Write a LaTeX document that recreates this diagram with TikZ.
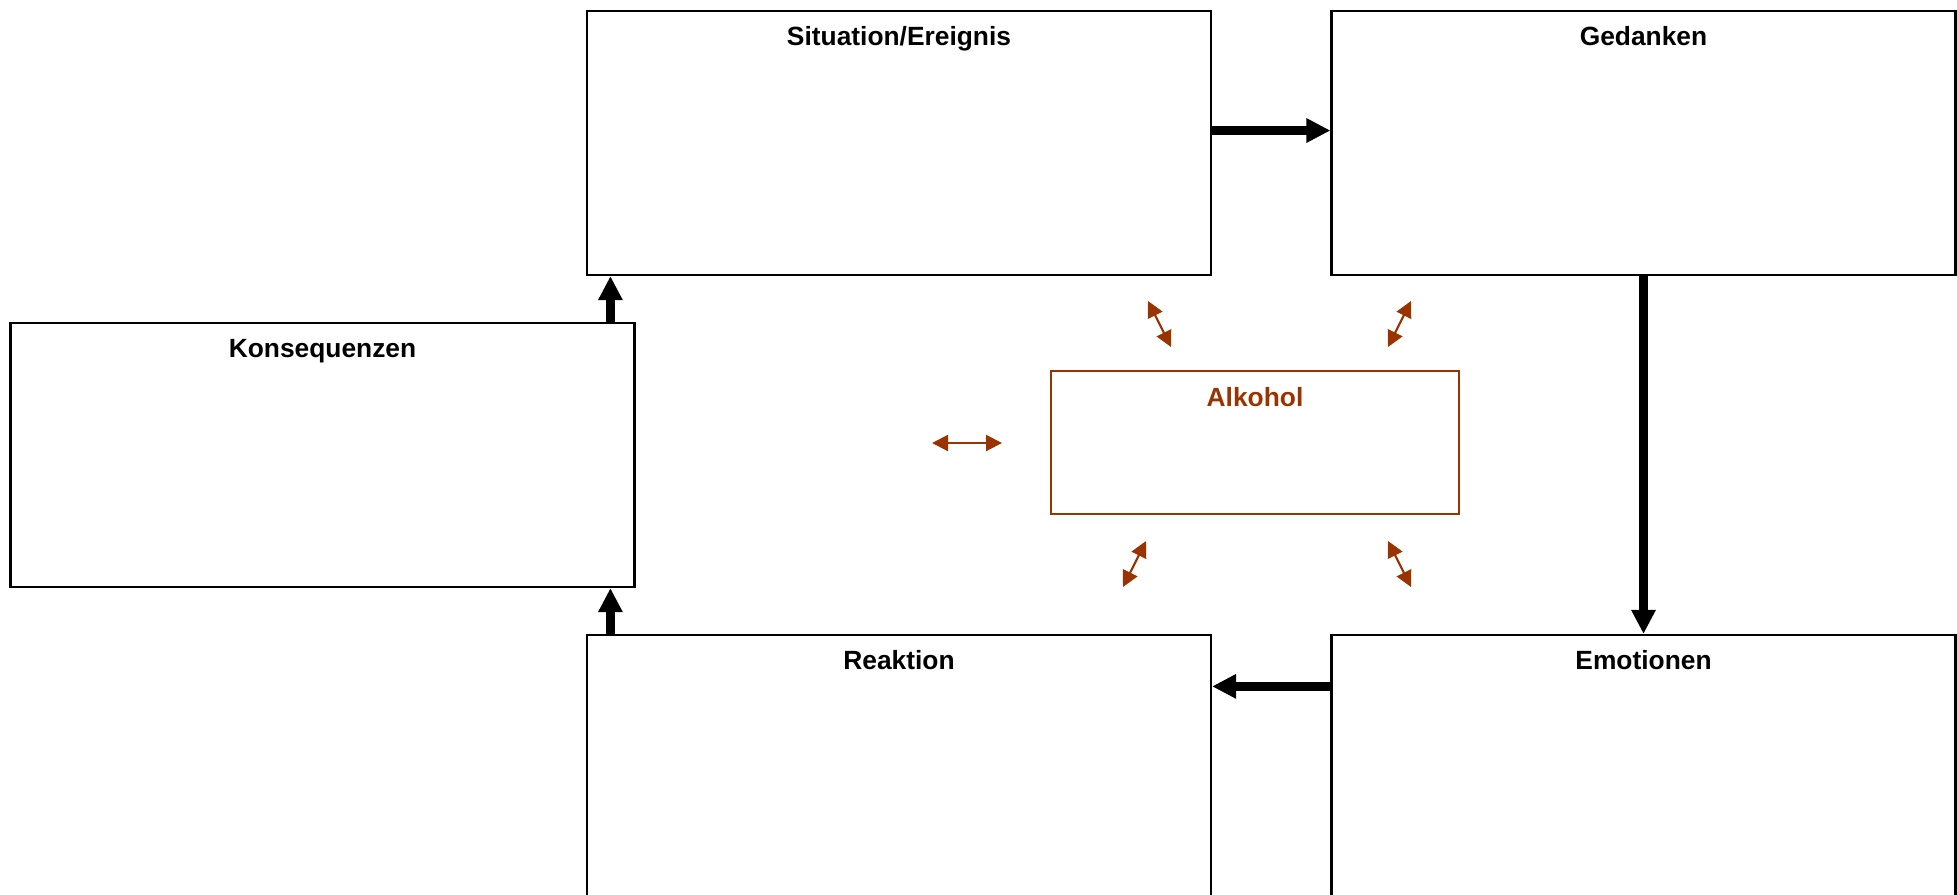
\documentclass[tikz,border=0pt]{standalone}
\usepackage{fontspec}
\setmainfont{Liberation Sans}
\usetikzlibrary{arrows.meta,positioning}
\definecolor{alkbrown}{RGB}{153,51,0}
\tikzset{
  box/.style={draw, line width=1.3pt, minimum width=12.48cm, minimum height=5.28cm, inner sep=0pt},
  title/.style={anchor=base, font=\bfseries\fontsize{15}{18}\selectfont},
  flow/.style={line width=5.5pt, -{Triangle[length=0.48cm,width=0.46cm]}},
  link/.style={alkbrown, line width=1.2pt, {Triangle[length=0.32cm,width=0.32cm]}-{Triangle[length=0.32cm,width=0.32cm]}}
}
\begin{document}
\begin{tikzpicture}[x=0.02cm,y=-0.02cm]
            \useasboundingbox (0,0) rectangle (1957,894);
            \clip (0,0) rectangle (1957,894);

            \node[box] (sit) at (899,143) {};
            \node[box] (ged) at (1643.5,143) {};
            \node[box] (kon) at (322.5,455) {};
            \node[box] (rea) at (899,767) {};
            \node[box] (emo) at (1643.5,767) {};
            \node[draw=alkbrown, line width=1pt, minimum width=8.16cm, minimum height=2.86cm, inner sep=0pt] (alk) at (1255,442.5) {};

            \node[title] (sitT) at ([yshift=-0.72cm]sit.north) {Situation/Ereignis};
            \node[title] (gedT) at ([yshift=-0.72cm]ged.north) {Gedanken};
            \node[title] (konT) at ([yshift=-0.72cm]kon.north) {Konsequenzen};
            \node[title] (reaT) at ([yshift=-0.72cm]rea.north) {Reaktion};
            \node[title] (emoT) at ([yshift=-0.72cm]emo.north) {Emotionen};
            \node[title, text=alkbrown] (alkT) at ([yshift=-0.72cm]alk.north) {Alkohol};

            \draw[flow] ([yshift=0.25cm]sit.east) -- ([yshift=0.25cm]ged.west);
            \draw[flow] (ged.south) -- (emo.north);
            \draw[flow] ([yshift=-1.05cm]emo.north west) -- ([yshift=-1.05cm]rea.north east);
            \draw[flow] ([xshift=0.49cm]rea.north west) -- ([xshift=0.49cm]rea.north west |- kon.south);
            \draw[flow] ([xshift=0.49cm]sit.south west |- kon.north) -- ([xshift=0.49cm]sit.south west);

            \coordinate (lA) at (932,443);
            \coordinate (lB) at (1002,443);
            \coordinate (tlA) at (1148,301);
            \coordinate (tlB) at (1171,347);
            \coordinate (trA) at (1411,301);
            \coordinate (trB) at (1388,347);
            \coordinate (blA) at (1146,541);
            \coordinate (blB) at (1123,587);
            \coordinate (brA) at (1388,541);
            \coordinate (brB) at (1411,587);

            \draw[link] (lA) -- (lB);
            \draw[link] (tlA) -- (tlB);
            \draw[link] (trA) -- (trB);
            \draw[link] (blA) -- (blB);
            \draw[link] (brA) -- (brB);
\end{tikzpicture}
\end{document}
